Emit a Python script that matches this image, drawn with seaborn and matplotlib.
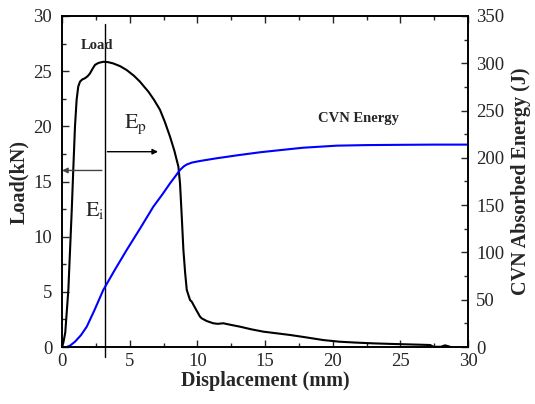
import matplotlib
matplotlib.use("Agg")
import matplotlib.pyplot as plt
import seaborn as sns
import pandas as pd
from matplotlib.ticker import MultipleLocator

# Load curve (Displacement mm, Load kN)
load_x = [0.0, 0.1, 0.24, 0.47, 0.72, 0.84, 0.96, 1.08, 1.2, 1.33, 1.5, 1.70, 1.9, 2.07, 2.25, 2.44,
          2.7, 3.05, 3.4, 3.79, 4.3, 4.78, 5.3, 5.76, 6.1, 6.38, 6.8, 7.24, 7.6, 7.98, 8.3, 8.6,
          8.72, 8.85, 8.97, 9.1, 9.22, 9.46, 9.59, 9.9, 10.2, 10.32, 10.7, 11.18, 11.5, 11.92,
          12.5, 13.16, 14.0, 14.88, 15.8, 16.85, 18.0, 19.3, 20.5, 21.7, 23.0, 24.3, 25.5,
          26.4, 27.2, 27.45, 28.0, 28.3, 28.6, 28.7]
load_y = [0.0, 0.4, 1.3, 5.2, 12.4, 16.3, 20.0, 22.4, 23.6, 24.05, 24.25, 24.36, 24.55, 24.8, 25.2, 25.57,
          25.75, 25.85, 25.82, 25.7, 25.45, 25.1, 24.6, 24.05, 23.55, 23.15, 22.4, 21.5, 20.4, 19.07, 17.8, 16.35,
          14.84, 11.8, 8.8, 6.7, 5.17, 4.26, 4.1, 3.4, 2.75, 2.6, 2.35, 2.15, 2.1, 2.15,
          2.0, 1.84, 1.6, 1.39, 1.25, 1.09, 0.88, 0.63, 0.48, 0.4, 0.33, 0.28, 0.24,
          0.21, 0.18, 0.02, 0.02, 0.15, 0.05, 0.0]

# Absorbed energy curve (Displacement mm, Energy J)
en_x = [0.0, 0.35, 0.6, 0.96, 1.4, 1.83, 2.4, 3.05, 3.9, 4.78, 5.8, 6.75, 7.4, 7.98, 8.4, 8.72,
        9.0, 9.22, 9.6, 10.2, 11.4, 13.0, 14.63, 16.0, 17.8, 20.3, 22.5, 25.2, 27.5, 30.0]
en_y = [0.0, 0.0, 1.5, 5.6, 12.5, 21.5, 39.0, 60.3, 81.5, 102.6, 126.0, 148.4, 161.0, 173.0, 181.0, 187.2,
        191.0, 193.0, 195.0, 196.7, 199.5, 202.8, 205.9, 208.0, 210.7, 212.9, 213.5, 213.8, 214.0, 214.0]

x_ticks = [0, 5, 10, 15, 20, 25, 30]
load_ticks = [0, 5, 10, 15, 20, 25, 30]
energy_ticks = [0, 50, 100, 150, 200, 250, 300, 350]

sns.set_style("ticks")
plt.rcParams['font.family'] = ['Liberation Serif', 'DejaVu Serif']
plt.rcParams['mathtext.fontset'] = 'stix'

fig = plt.figure(figsize=(5.35, 4.04), dpi=100)
ax = fig.add_axes([62 / 535, 57 / 404, 406 / 535, 331 / 404])
ax2 = ax.twinx()

df_load = pd.DataFrame({"x": load_x, "y": load_y})
df_en = pd.DataFrame({"x": en_x, "y": en_y})
sns.lineplot(data=df_load, x="x", y="y", ax=ax, color="black", linewidth=1.5, sort=False)
sns.lineplot(data=df_en, x="x", y="y", ax=ax2, color="#0000ff", linewidth=1.5, sort=False)

ax.set_xlim(0, 30)
ax.set_ylim(0, 30)
ax2.set_ylim(0, 350)
ax.set_xticks(x_ticks)
ax.set_yticks(load_ticks)
ax2.set_yticks(energy_ticks)
ax.xaxis.set_minor_locator(MultipleLocator(2.5))
ax.yaxis.set_minor_locator(MultipleLocator(2.5))
ax2.yaxis.set_minor_locator(MultipleLocator(25))

for a in (ax, ax2):
    for s in a.spines.values():
        s.set_linewidth(1.2)
        s.set_color("black")
ax.tick_params(axis="both", which="major", direction="in", length=5, width=1, labelsize=13.5, top=True)
ax.tick_params(axis="x", which="major", pad=4)
ax.tick_params(axis="y", which="major", pad=7)
ax.tick_params(axis="both", which="minor", direction="in", length=3, width=1, top=True)
ax.tick_params(axis="y", right=False, which="both")
ax2.tick_params(axis="y", which="major", direction="in", length=5, width=1, labelsize=13.5, pad=6)
ax2.tick_params(axis="y", which="minor", direction="in", length=3, width=1)

ax.set_xlabel("Displacement (mm)", fontsize=14.5, fontweight="bold", labelpad=1)
ax.set_ylabel("Load(kN)", fontsize=14.5, fontweight="bold", labelpad=3)
ax2.set_ylabel("CVN Absorbed Energy (J)", fontsize=14.5, fontweight="bold", labelpad=5)

# annotations
xi = 3.15
ax.plot([xi, xi], [-0.9, 29.3], color="black", linewidth=1.0, clip_on=False)
ax.annotate("", xy=(-0.2, 16.0), xytext=(xi, 16.0),
            arrowprops=dict(arrowstyle="-|>", color="#444444", lw=1.0, mutation_scale=8),
            annotation_clip=False)
ax.annotate("", xy=(7.3, 17.7), xytext=(xi, 17.7),
            arrowprops=dict(arrowstyle="-|>", color="black", lw=1.0, mutation_scale=8))
ax.text(4.55, 19.1, r"$\mathrm{E_p}$", fontsize=16, ha="left", va="bottom")
ax.text(1.7, 11.4, r"$\mathrm{E_i}$", fontsize=16, ha="left", va="bottom")
ax.text(1.35, 27.3, "Load", fontsize=10.5, fontweight="bold", ha="left", va="center")
ax.text(21.9, 20.7, "CVN Energy", fontsize=10.5, fontweight="bold", ha="center", va="center")

fig.savefig("out.png", dpi=100)
